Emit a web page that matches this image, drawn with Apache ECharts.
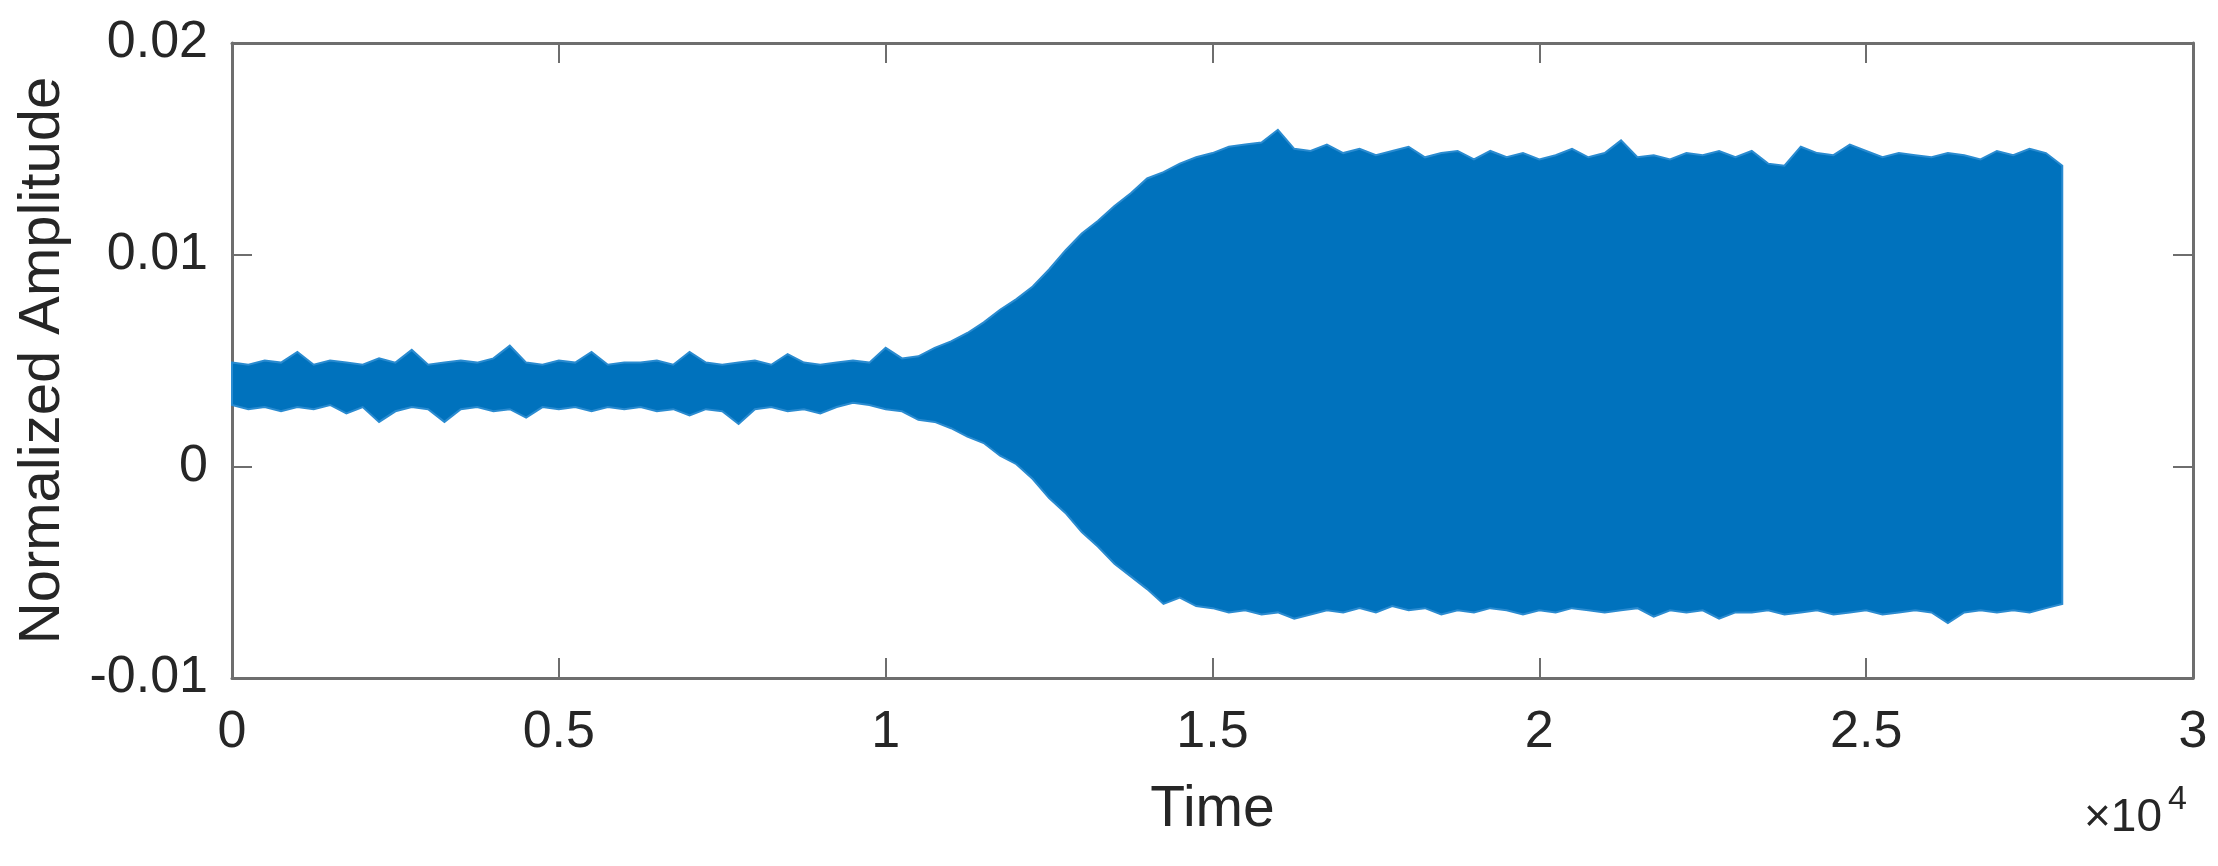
<!DOCTYPE html>
<html>
<head>
<meta charset="utf-8">
<script src="https://cdn.jsdelivr.net/npm/echarts@6/dist/echarts.min.js"></script>
<style>
  html, body { margin: 0; padding: 0; background: #ffffff; }
  #chart { width: 2218px; height: 866px; }
</style>
</head>
<body>
<div id="chart"></div>
<script>
// ---- data ----
const time = [
  0, 250, 500, 750, 1000, 1250, 1500, 1750, 2000, 2250,
  2500, 2750, 3000, 3250, 3500, 3750, 4000, 4250, 4500, 4750,
  5000, 5250, 5500, 5750, 6000, 6250, 6500, 6750, 7000, 7250,
  7500, 7750, 8000, 8250, 8500, 8750, 9000, 9250, 9500, 9750,
  10000, 10250, 10500, 10750, 11000, 11250, 11500, 11750, 12000, 12250,
  12500, 12750, 13000, 13250, 13500, 13750, 14000, 14250, 14500, 14750,
  15000, 15250, 15500, 15750, 16000, 16250, 16500, 16750, 17000, 17250,
  17500, 17750, 18000, 18250, 18500, 18750, 19000, 19250, 19500, 19750,
  20000, 20250, 20500, 20750, 21000, 21250, 21500, 21750, 22000, 22250,
  22500, 22750, 23000, 23250, 23500, 23750, 24000, 24250, 24500, 24750,
  25000, 25250, 25500, 25750, 26000, 26250, 26500, 26750, 27000, 27250,
  27500, 27750, 28000
];
// upper envelope of the signal (Normalized Amplitude)
const upperEnvelope = [
  0.0049, 0.0048, 0.0050, 0.0049, 0.0054, 0.0048, 0.0050, 0.0049, 0.0048, 0.0051,
  0.0049, 0.0055, 0.0048, 0.0049, 0.0050, 0.0049, 0.0051, 0.0057, 0.0049, 0.0048,
  0.0050, 0.0049, 0.0054, 0.0048, 0.0049, 0.0049, 0.0050, 0.0048, 0.0054, 0.0049,
  0.0048, 0.0049, 0.0050, 0.0048, 0.0053, 0.0049, 0.0048, 0.0049, 0.0050, 0.0049,
  0.0056, 0.0051, 0.0052, 0.0056, 0.0059, 0.0063, 0.0068, 0.0074, 0.0079, 0.0085,
  0.0093, 0.0102, 0.0110, 0.0116, 0.0123, 0.0129, 0.0136, 0.0139, 0.0143, 0.0146,
  0.0148, 0.0151, 0.0152, 0.0153, 0.0159, 0.0150, 0.0149, 0.0152, 0.0148, 0.0150,
  0.0147, 0.0149, 0.0151, 0.0146, 0.0148, 0.0149, 0.0145, 0.0149, 0.0146, 0.0148,
  0.0145, 0.0147, 0.0150, 0.0146, 0.0148, 0.0154, 0.0146, 0.0147, 0.0145, 0.0148,
  0.0147, 0.0149, 0.0146, 0.0149, 0.0143, 0.0142, 0.0151, 0.0148, 0.0147, 0.0152,
  0.0149, 0.0146, 0.0148, 0.0147, 0.0146, 0.0148, 0.0147, 0.0145, 0.0149, 0.0147,
  0.0150, 0.0148, 0.0142
];
// lower envelope of the signal
const lowerEnvelope = [
  0.0029, 0.0027, 0.0028, 0.0026, 0.0028, 0.0027, 0.0029, 0.0025, 0.0028, 0.0021,
  0.0026, 0.0028, 0.0027, 0.0021, 0.0027, 0.0028, 0.0026, 0.0027, 0.0023, 0.0028,
  0.0027, 0.0028, 0.0026, 0.0028, 0.0027, 0.0028, 0.0026, 0.0027, 0.0024, 0.0027,
  0.0026, 0.0020, 0.0027, 0.0028, 0.0026, 0.0027, 0.0025, 0.0028, 0.0030, 0.0029,
  0.0027, 0.0026, 0.0022, 0.0021, 0.0018, 0.0014, 0.0011, 0.0005, 0.0001, -0.0006,
  -0.0015, -0.0022, -0.0031, -0.0038, -0.0046, -0.0052, -0.0058, -0.0065, -0.0062, -0.0066,
  -0.0067, -0.0069, -0.0068, -0.0070, -0.0069, -0.0072, -0.0070, -0.0068, -0.0069, -0.0067,
  -0.0069, -0.0066, -0.0068, -0.0067, -0.0070, -0.0068, -0.0069, -0.0067, -0.0068, -0.0070,
  -0.0068, -0.0069, -0.0067, -0.0068, -0.0069, -0.0068, -0.0067, -0.0071, -0.0068, -0.0069,
  -0.0068, -0.0072, -0.0069, -0.0069, -0.0068, -0.0070, -0.0069, -0.0068, -0.0070, -0.0069,
  -0.0068, -0.0070, -0.0069, -0.0068, -0.0069, -0.0074, -0.0069, -0.0068, -0.0069, -0.0068,
  -0.0069, -0.0067, -0.0065
];
const xTickValues = [0, 5000, 10000, 15000, 20000, 25000, 30000];
const xTickLabels = ['0', '0.5', '1', '1.5', '2', '2.5', '3'];
const yTickValues = [-0.01, 0, 0.01, 0.02];
const yTickLabels = ['-0.01', '0', '0.01', '0.02'];
const xAxisTitle = 'Time';
const yAxisTitle = 'Normalized Amplitude';
const xExponentBase = '×10';
const xExponent = '4';

// ---- styling ----
const FONT = '"Liberation Sans", Arial, Helvetica, sans-serif';
const TEXT = '#262626';
const AXIS = '#6e6e6e';
const BLUE = '#0072BD';
const EDGE = '#2a8bd0';

function nearestLabel(values, labels, v) {
  let best = 0;
  for (let i = 1; i < values.length; i++) {
    if (Math.abs(values[i] - v) < Math.abs(values[best] - v)) best = i;
  }
  return labels[best];
}

const envelopeData = time.map((t, i) => [t, upperEnvelope[i], lowerEnvelope[i]]);

const axisLineStyle = { show: true, onZero: false, lineStyle: { color: AXIS, width: 3 } };
const tickStyle = { show: true, inside: true, length: 20, lineStyle: { color: AXIS, width: 2 } };

function renderEnvelope(params, api) {
  if (params.dataIndexInside !== 0) return null;
  const n = params.dataInsideLength;
  const pts = [];
  for (let i = 0; i < n; i++) {
    pts.push(api.coord([api.value(0, i), api.value(1, i)]));
  }
  for (let i = n - 1; i >= 0; i--) {
    pts.push(api.coord([api.value(0, i), api.value(2, i)]));
  }
  return {
    type: 'polygon',
    shape: { points: pts },
    style: { fill: BLUE, stroke: EDGE, lineWidth: 2, lineJoin: 'miter' }
  };
}

const chart = echarts.init(document.getElementById('chart'), null, { renderer: 'canvas' });
chart.setOption({
  animation: false,
  backgroundColor: '#ffffff',
  grid: { left: 232, right: 25, top: 43, bottom: 188, containLabel: false },
  xAxis: [
    {
      type: 'value', position: 'bottom', min: 0, max: 30000, interval: 5000,
      axisLine: axisLineStyle, axisTick: tickStyle, splitLine: { show: false },
      axisLabel: {
        show: true, margin: 29, fontSize: 52, color: TEXT, fontFamily: FONT,
        showMinLabel: true, showMaxLabel: true,
        formatter: v => nearestLabel(xTickValues, xTickLabels, v)
      },
      name: xAxisTitle, nameLocation: 'middle', nameGap: 104,
      nameTextStyle: { fontSize: 57, color: TEXT, fontFamily: FONT }
    },
    {
      type: 'value', position: 'top', min: 0, max: 30000, interval: 5000,
      axisLine: axisLineStyle, axisTick: tickStyle, splitLine: { show: false },
      axisLabel: { show: false }
    }
  ],
  yAxis: [
    {
      type: 'value', position: 'left', min: -0.01, max: 0.02, interval: 0.01,
      axisLine: axisLineStyle, axisTick: tickStyle, splitLine: { show: false },
      axisLabel: {
        show: true, margin: 24, fontSize: 52, color: TEXT, fontFamily: FONT,
        showMinLabel: true, showMaxLabel: true,
        formatter: v => nearestLabel(yTickValues, yTickLabels, v)
      },
      name: yAxisTitle, nameLocation: 'middle', nameGap: 160, nameRotate: 90,
      nameTextStyle: { fontSize: 58, color: TEXT, fontFamily: FONT }
    },
    {
      type: 'value', position: 'right', min: -0.01, max: 0.02, interval: 0.01,
      axisLine: axisLineStyle, axisTick: tickStyle, splitLine: { show: false },
      axisLabel: { show: false }
    }
  ],
  series: [
    {
      name: 'signal', type: 'custom', xAxisIndex: 0, yAxisIndex: 0,
      data: envelopeData,
      encode: { x: 0, y: [1, 2] },
      renderItem: renderEnvelope,
      silent: true, z: 2
    }
  ],
  graphic: [
    {
      type: 'text', left: 2084, top: 795,
      style: { text: xExponentBase, fontSize: 46, fontFamily: FONT, fill: TEXT }
    },
    {
      type: 'text', left: 2168, top: 783,
      style: { text: xExponent, fontSize: 34, fontFamily: FONT, fill: TEXT }
    }
  ]
});
</script>
</body>
</html>
